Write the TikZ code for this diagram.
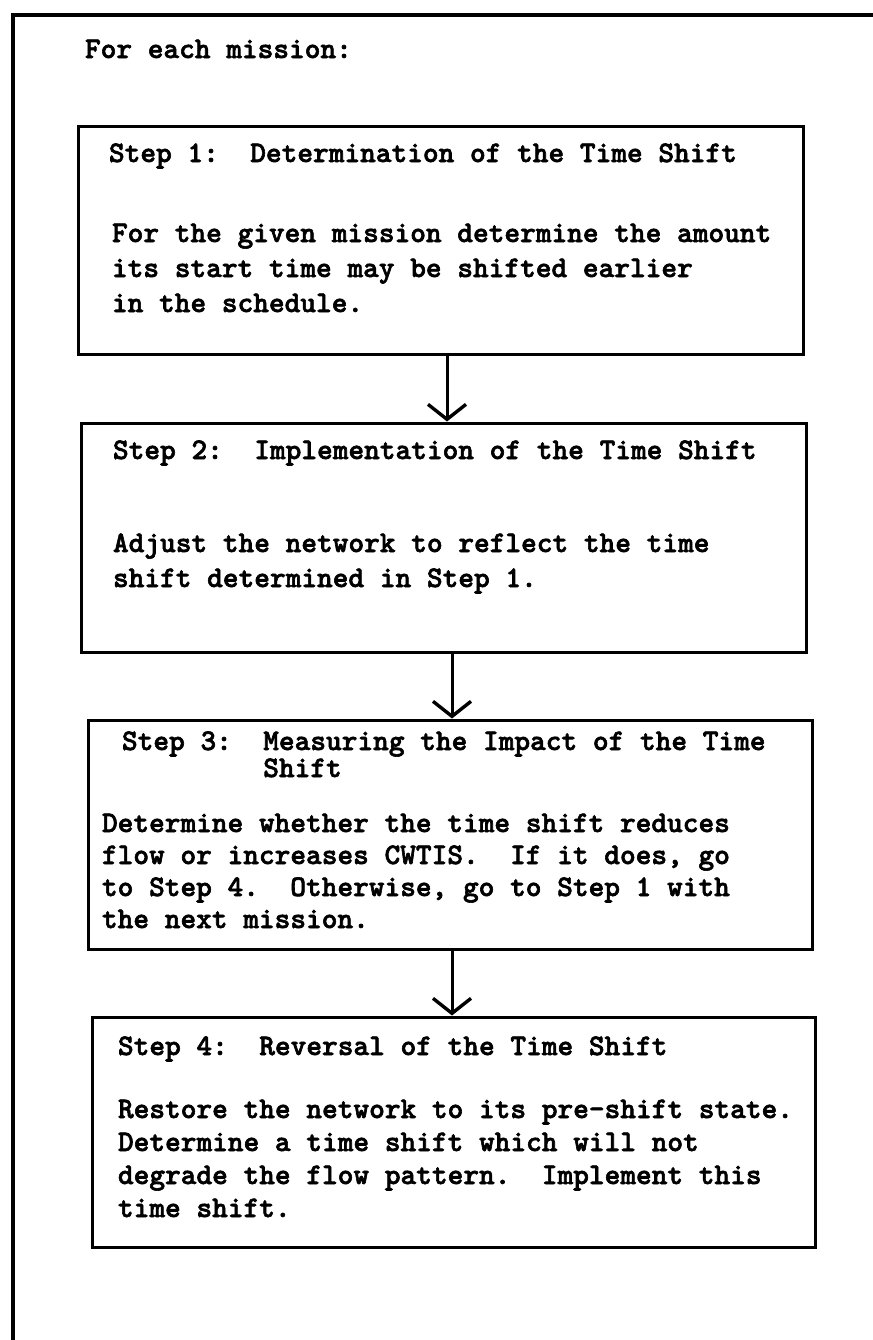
\documentclass[tikz,border=0pt]{standalone}
\usepackage{fontspec}
\newfontfamily\heavymono{lmmonolt10-bold.otf}[FakeBold=2]
\usetikzlibrary{arrows.meta,fit}
\begin{document}
\frenchspacing
\begin{tikzpicture}[x=0.5pt,y=-0.5pt,
  txt/.style={anchor=base west,inner sep=0pt,outer sep=0pt,
    font=\heavymono\fontsize{14.95pt}{18pt}\selectfont},
  stepbox/.style={draw,line width=1.5pt,inner sep=0pt},
  frame/.style={line width=2.3pt},
  flow/.style={line width=1.5pt,-{Straight Barb[length=7.5pt,width=19pt,line width=1.7pt]}}]
  % page
  \fill[white] (0,0) rectangle (873,1340);
  \useasboundingbox (0,0) rectangle (873,1340);
  \clip (0,0) rectangle (873,1340);
  % outer frame (top and left edges on the page)
  \draw[frame] (900,15) -- (13,15) -- (13,1400);

  \node[txt] (head) at (85,58) {For each mission:};

  % corners of the step boxes
  \coordinate (a1) at (78,126);  \coordinate (b1) at (803,354);
  \coordinate (a2) at (81,423);  \coordinate (b2) at (806,652);
  \coordinate (a3) at (88,720);  \coordinate (b3) at (812,949);
  \coordinate (a4) at (92,1017); \coordinate (b4) at (815,1247);

  % step boxes
  \node[stepbox, fit=(a1)(b1)] (s1) {};
  \node[stepbox, fit=(a2)(b2)] (s2) {};
  \node[stepbox, fit=(a3)(b3)] (s3) {};
  \node[stepbox, fit=(a4)(b4)] (s4) {};

  % step 1
  \node[txt] (t1h) at (109,162) {Step 1:~~Determination of the Time Shift};
  \node[txt] (t1a) at (112,242) {For the given mission determine the amount};
  \node[txt] (t1b) at (112,277) {its start time may be shifted earlier};
  \node[txt] (t1c) at (112,312) {in the schedule.};

  % step 2
  \node[txt] (t2h) at (113,459) {Step 2:~~Implementation of the Time Shift};
  \node[txt] (t2a) at (113,552) {Adjust the network to reflect the time};
  \node[txt] (t2b) at (113,587) {shift determined in Step 1.};

  % step 3
  \node[txt] (t3h) at (122,750) {Step 3:~~Measuring the Impact of the Time};
  \node[txt] (t3i) at (122,777) {\hphantom{Step 3:~~}Shift};
  \node[txt] (t3a) at (102,832) {Determine whether the time shift reduces};
  \node[txt] (t3b) at (102,864) {flow or increases CWTIS.~~If it does, go};
  \node[txt] (t3c) at (102,896) {to Step 4.~~Otherwise, go to Step 1 with};
  \node[txt] (t3d) at (102,928) {the next mission.};

  % step 4
  \node[txt] (t4h) at (118,1055) {Step 4:~~Reversal of the Time Shift};
  \node[txt] (t4a) at (118,1118) {Restore the network to its pre-shift state.};
  \node[txt] (t4b) at (118,1151) {Determine a time shift which will not};
  \node[txt] (t4c) at (118,1184) {degrade the flow pattern.~~Implement this};
  \node[txt] (t4d) at (118,1217) {time shift.};

  % connectors
  \coordinate (ax1) at (447,0);
  \coordinate (ax2) at (452,0);
  \draw[flow] (s1.south -| ax1) -- (s2.north -| ax1);
  \draw[flow] (s2.south -| ax2) -- (s3.north -| ax2);
  \draw[flow] (s3.south -| ax2) -- (s4.north -| ax2);
\end{tikzpicture}
\end{document}
